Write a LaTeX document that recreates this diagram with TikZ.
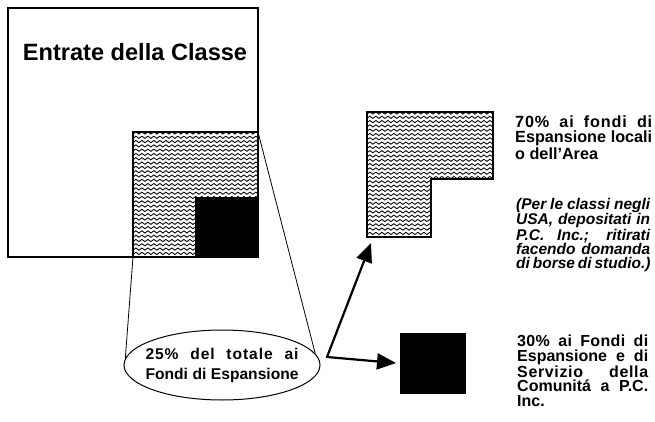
\documentclass[tikz,border=0pt]{standalone}
\usepackage{fontspec}
\setmainfont{Liberation Sans}
\usetikzlibrary{shapes.geometric,arrows.meta,decorations.pathmorphing}
\newcommand\myjl[2][136pt]{\makebox[#1][s]{#2}}
\begin{document}
\begin{tikzpicture}[x=1pt,y=-1pt,font=\bfseries,
  frame/.style={draw=black,line width=1.1pt,inner sep=0pt,outer sep=0pt,anchor=north west},
  wave/.style={line width=0.85pt,decorate,decoration={snake,segment length=6pt,amplitude=1.1pt}},
  arr/.style={line width=2.2pt,line cap=round,-{Triangle[length=19pt,width=16pt]}},
  thinline/.style={line width=0.8pt},
  txt/.style={anchor=north west,inner sep=0pt,align=left}]
\useasboundingbox (0,0) rectangle (655,422);
\fill[white] (0,0) rectangle (655,422);

% big square
\node[frame,minimum width=250pt,minimum height=249pt] (big) at (8,8) {};
\node[font=\bfseries\fontsize{23.6}{28}\selectfont] (title) at (135,52) {Entrate della Classe};

% hatched square
\begin{scope}
\clip (133,132) rectangle (258,257);
\foreach \yy in {133,137.3,...,259} \draw[wave] (128,\yy) -- (264,\yy);
\end{scope}
\node[frame,minimum width=125pt,minimum height=125pt] (hsq) at (133,132) {};
\node[frame,fill=black,minimum width=62pt,minimum height=59pt] (bsq) at (196,198) {};

% ellipse
\node[draw,ellipse,line width=1pt,minimum width=196pt,minimum height=70pt,inner sep=0pt] (ell) at (222,365) {};
\node[inner sep=0pt,align=left,font=\bfseries\fontsize{15.6}{20}\selectfont] (etxt) at (ell.center)
  {\myjl[153pt]{\addfontfeature{LetterSpace=6}25\% del totale ai}\\\myjl[153pt]{Fondi di Espansione}};
\draw[thinline] (hsq.south west) -- (ell.176);
\draw[thinline] (hsq.north east) -- (ell.7);

% L-shaped hatched area
\begin{scope}
\clip (367,112) -- (493,112) -- (493,179) -- (431,179) -- (431,237) -- (367,237) -- cycle;
\foreach \yy in {113,117.3,...,239} \draw[wave] (362,\yy) -- (498,\yy);
\end{scope}
\draw[line width=1.1pt] (367,112) -- (493,112) -- (493,179) -- (431,179) -- (431,237) -- (367,237) -- cycle;

% black square
\node[frame,fill=black,minimum width=64pt,minimum height=59pt] (bsq2) at (401,334) {};

% arrows
\coordinate (fork) at (327,357);
\coordinate (ltip) at (371,243);
\draw[arr] (fork) -- (ltip);
\draw[arr,shorten >=5pt] (fork) -- (bsq2.west);

% texts
\node[txt,font=\bfseries\fontsize{16.2}{15}\selectfont] (t1) at (515,116)
  {\myjl[137pt]{\addfontfeature{LetterSpace=5}70\% ai fondi di}\\\myjl[137pt]{Espansione locali}\\o dell’Area};
\node[txt,font=\bfseries\itshape\fontsize{15.5}{14.1}\selectfont] (t2) at (516,198)
  {\myjl[134pt]{(Per le classi negli}\\\myjl[134pt]{USA, depositati in}\\\myjl[134pt]{P.C. Inc.; ritirati}\\\myjl[134pt]{facendo domanda}\\\myjl[134pt]{di borse di studio.)}};
\node[txt,font=\bfseries\fontsize{16}{14.5}\selectfont] (t3) at (517,335)
  {\myjl[131pt]{\addfontfeature{LetterSpace=2}30\% ai Fondi di}\\\myjl[131pt]{Espansione e di}\\\myjl[131pt]{\addfontfeature{LetterSpace=4}Servizio della}\\\myjl[131pt]{Comunitá a P.C.}\\Inc.};
\end{tikzpicture}
\end{document}
